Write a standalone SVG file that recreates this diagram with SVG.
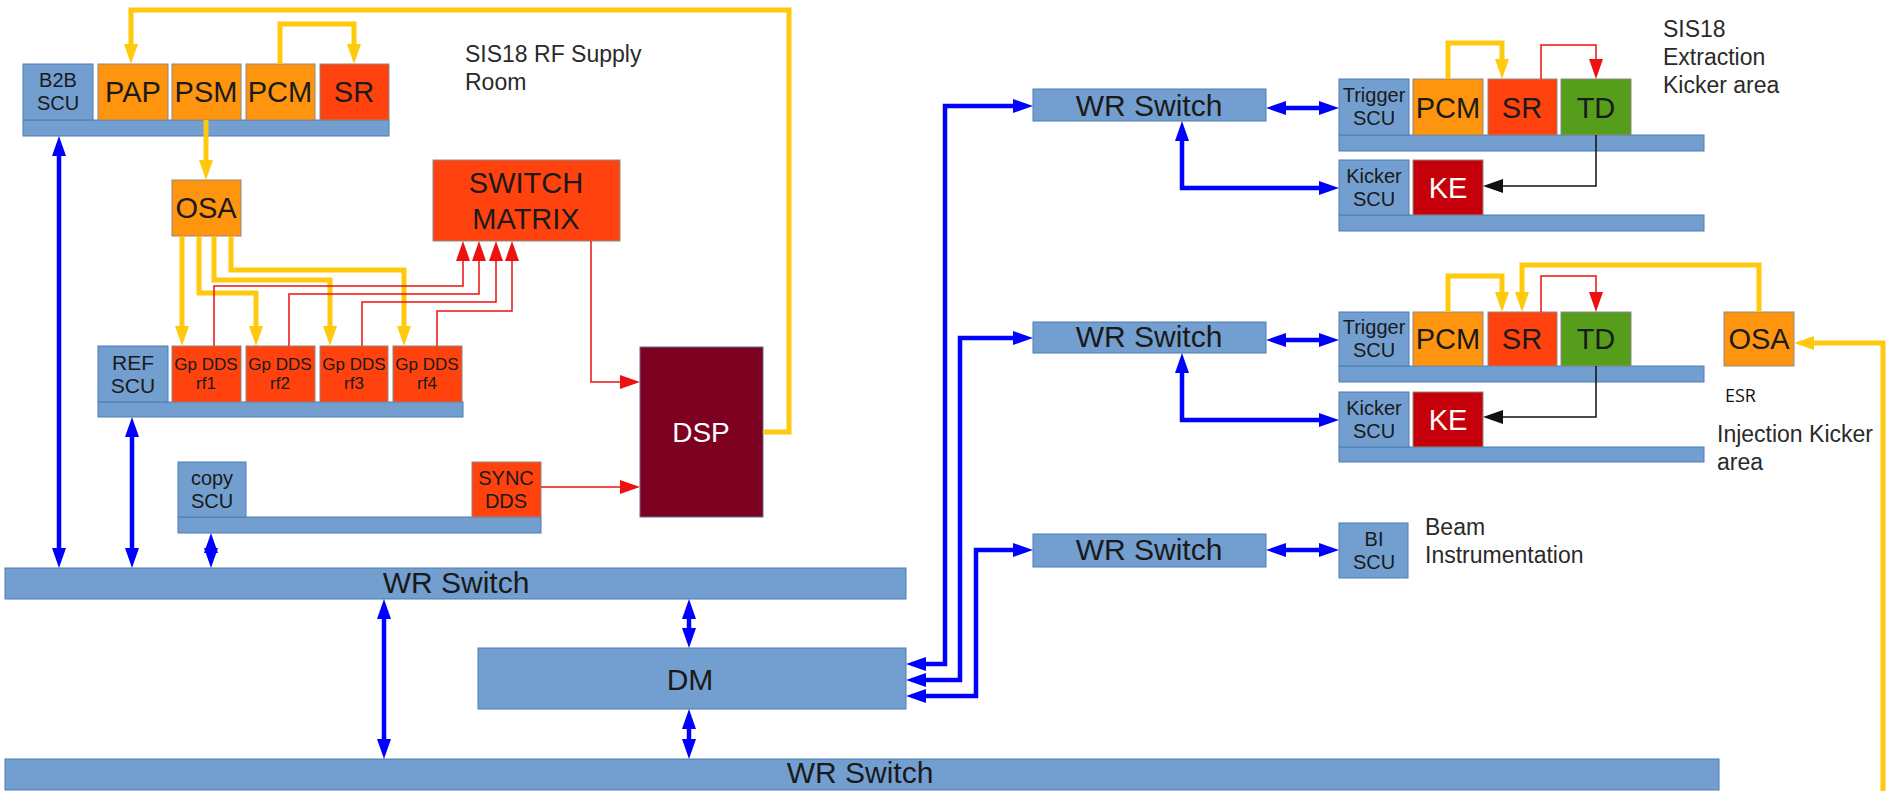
<svg xmlns="http://www.w3.org/2000/svg" width="1887" height="791" viewBox="0 0 1887 791">
<style>
text{font-family:"Liberation Sans",Arial,sans-serif;fill:#1a1a1a}
.c{text-anchor:middle}
.lbl{font-size:23px;fill:#2a2a2a}
.f20{font-size:20px}
.f17{font-size:17px}
.f29{font-size:29px}
.f30{font-size:30px}
.w{fill:#ffffff}
.blue{fill:#729fcf;stroke:#4f7cb3;stroke-width:1}
.or{fill:#ff950e;stroke:#8a8a8a;stroke-width:1}
.rd{fill:#ff420e;stroke:#8a8a8a;stroke-width:1}
.gr{fill:#579d1c;stroke:#8a8a8a;stroke-width:1}
.ke{fill:#c5000b;stroke:#8a8a8a;stroke-width:1}
.dsp{fill:#7e0021;stroke:#5a6a9a;stroke-width:1}
.ly{fill:none;stroke:#ffc90e;stroke-width:5}
.lb{fill:none;stroke:#0000ff;stroke-width:4.5}
.lr{fill:none;stroke:#ee1111;stroke-width:1.5}
.lk{fill:none;stroke:#111111;stroke-width:1.5}
</style>
<defs>
<marker id="mY" markerUnits="userSpaceOnUse" markerWidth="20" markerHeight="14" refX="10" refY="7" orient="auto-start-reverse"><path d="M0,0 L20,7 L0,14 z" fill="#ffc90e"/></marker>
<marker id="mB" markerUnits="userSpaceOnUse" markerWidth="20" markerHeight="14" refX="10" refY="7" orient="auto-start-reverse"><path d="M0,0 L20,7 L0,14 z" fill="#0000ff"/></marker>
<marker id="mR" markerUnits="userSpaceOnUse" markerWidth="20" markerHeight="14" refX="10" refY="7" orient="auto-start-reverse"><path d="M0,0 L20,7 L0,14 z" fill="#ee1111"/></marker>
<marker id="mK" markerUnits="userSpaceOnUse" markerWidth="20" markerHeight="14" refX="10" refY="7" orient="auto-start-reverse"><path d="M0,0 L20,7 L0,14 z" fill="#111111"/></marker>
</defs>
<rect width="1887" height="791" fill="#ffffff"/>

<g id="labels">
<text class="lbl" x="465" y="62">SIS18 RF Supply</text>
<text class="lbl" x="465" y="90">Room</text>
<text class="lbl" x="1663" y="37">SIS18</text>
<text class="lbl" x="1663" y="65">Extraction</text>
<text class="lbl" x="1663" y="93">Kicker area</text>
<text x="1725" y="402" style="font-family:'Open Sans','Liberation Sans',sans-serif;font-size:18px;fill:#111">ESR</text>
<text class="lbl" x="1717" y="442">Injection Kicker</text>
<text class="lbl" x="1717" y="470">area</text>
<text class="lbl" x="1425" y="535">Beam</text>
<text class="lbl" x="1425" y="563">Instrumentation</text>
</g>

<g id="rf-supply-rack">
<rect class="blue" x="23" y="120" width="366" height="16"/>
<rect class="blue" x="23" y="64" width="70" height="56"/>
<text class="c f20" x="58" y="87">B2B</text>
<text class="c f20" x="58" y="110">SCU</text>
<rect class="or" x="98" y="64" width="70" height="56"/>
<text class="c f29" x="133" y="102">PAP</text>
<rect class="or" x="172" y="64" width="69" height="56"/>
<text class="c f29" x="206" y="102">PSM</text>
<rect class="or" x="246" y="64" width="69" height="56"/>
<text class="c f29" x="280" y="102">PCM</text>
<rect class="rd" x="320" y="64" width="69" height="56"/>
<text class="c f29" x="354" y="102">SR</text>
</g>

<g id="osa-rf">
<rect class="or" x="172" y="180" width="69" height="56"/>
<text class="c f29" x="206" y="218">OSA</text>
</g>

<g id="switch-matrix">
<rect class="rd" x="433" y="160" width="187" height="81"/>
<text class="c f29" x="526" y="193">SWITCH</text>
<text class="c f29" x="526" y="229">MATRIX</text>
</g>

<g id="ref-rack">
<rect class="blue" x="98" y="402" width="365" height="15"/>
<rect class="blue" x="98" y="346" width="70" height="56"/>
<text class="c" x="133" y="370" style="font-size:21px">REF</text>
<text class="c" x="133" y="393" style="font-size:21px">SCU</text>
<rect class="rd" x="172" y="346" width="69" height="56"/>
<text class="c f17" x="206" y="370">Gp DDS</text>
<text class="c f17" x="206" y="389">rf1</text>
<rect class="rd" x="246" y="346" width="69" height="56"/>
<text class="c f17" x="280" y="370">Gp DDS</text>
<text class="c f17" x="280" y="389">rf2</text>
<rect class="rd" x="320" y="346" width="68" height="56"/>
<text class="c f17" x="354" y="370">Gp DDS</text>
<text class="c f17" x="354" y="389">rf3</text>
<rect class="rd" x="393" y="346" width="69" height="56"/>
<text class="c f17" x="427" y="370">Gp DDS</text>
<text class="c f17" x="427" y="389">rf4</text>
</g>

<g id="copy-rack">
<rect class="blue" x="178" y="517" width="363" height="16"/>
<rect class="blue" x="178" y="462" width="68" height="55"/>
<text class="c f20" x="212" y="485">copy</text>
<text class="c f20" x="212" y="508">SCU</text>
<rect class="rd" x="472" y="462" width="69" height="55"/>
<text class="c f20" x="506" y="485">SYNC</text>
<text class="c f20" x="506" y="508">DDS</text>
</g>

<g id="dsp">
<rect class="dsp" x="640" y="347" width="123" height="170"/>
<text class="c w" x="701" y="442" style="font-size:28px">DSP</text>
</g>

<g id="wr-upper">
<rect class="blue" x="5" y="568" width="901" height="31"/>
<text class="c f30" x="456" y="593">WR Switch</text>
</g>

<g id="dm">
<rect class="blue" x="478" y="648" width="428" height="61"/>
<text class="c f30" x="690" y="690">DM</text>
</g>

<g id="wr-lower">
<rect class="blue" x="5" y="759" width="1714" height="31"/>
<text class="c f30" x="860" y="783">WR Switch</text>
</g>

<g id="wr1">
<rect class="blue" x="1033" y="89" width="233" height="32"/>
<text class="c f30" x="1149" y="116">WR Switch</text>
</g>
<g id="wr2">
<rect class="blue" x="1033" y="322" width="233" height="31"/>
<text class="c f30" x="1149" y="347">WR Switch</text>
</g>
<g id="wr3">
<rect class="blue" x="1033" y="534" width="233" height="33"/>
<text class="c f30" x="1149" y="560">WR Switch</text>
</g>

<g id="extraction-trigger-rack">
<rect class="blue" x="1339" y="135" width="365" height="16"/>
<rect class="blue" x="1339" y="79" width="70" height="56"/>
<text class="c f20" x="1374" y="102">Trigger</text>
<text class="c f20" x="1374" y="125">SCU</text>
<rect class="or" x="1413" y="79" width="70" height="56"/>
<text class="c f29" x="1448" y="118">PCM</text>
<rect class="rd" x="1488" y="79" width="69" height="56"/>
<text class="c f29" x="1522" y="118">SR</text>
<rect class="gr" x="1561" y="79" width="70" height="56"/>
<text class="c f29" x="1596" y="118">TD</text>
</g>
<g id="extraction-kicker-rack">
<rect class="blue" x="1339" y="215" width="365" height="16"/>
<rect class="blue" x="1339" y="160" width="70" height="55"/>
<text class="c f20" x="1374" y="183">Kicker</text>
<text class="c f20" x="1374" y="206">SCU</text>
<rect class="ke" x="1413" y="160" width="70" height="55"/>
<text class="c f29 w" x="1448" y="198">KE</text>
</g>

<g id="injection-trigger-rack">
<rect class="blue" x="1339" y="366" width="365" height="16"/>
<rect class="blue" x="1339" y="312" width="70" height="54"/>
<text class="c f20" x="1374" y="334">Trigger</text>
<text class="c f20" x="1374" y="357">SCU</text>
<rect class="or" x="1413" y="312" width="70" height="54"/>
<text class="c f29" x="1448" y="349">PCM</text>
<rect class="rd" x="1488" y="312" width="69" height="54"/>
<text class="c f29" x="1522" y="349">SR</text>
<rect class="gr" x="1561" y="312" width="70" height="54"/>
<text class="c f29" x="1596" y="349">TD</text>
</g>
<g id="injection-kicker-rack">
<rect class="blue" x="1339" y="447" width="365" height="15"/>
<rect class="blue" x="1339" y="392" width="70" height="55"/>
<text class="c f20" x="1374" y="415">Kicker</text>
<text class="c f20" x="1374" y="438">SCU</text>
<rect class="ke" x="1413" y="392" width="70" height="55"/>
<text class="c f29 w" x="1448" y="430">KE</text>
</g>

<g id="osa-esr">
<rect class="or" x="1724" y="312" width="70" height="54"/>
<text class="c f29" x="1759" y="349">OSA</text>
</g>

<g id="bi-scu">
<rect class="blue" x="1339" y="523" width="69" height="55"/>
<text class="c f20" x="1374" y="546">BI</text>
<text class="c f20" x="1374" y="569">SCU</text>
</g>

<g id="connectors">
<path class="ly" d="M763,432 H789 V10 H131 V54" marker-end="url(#mY)"/>
<path class="ly" d="M280,64 V24 H354 V54" marker-end="url(#mY)"/>
<path class="ly" d="M206,120 V170" marker-end="url(#mY)"/>
<path class="ly" d="M182,236 V336" marker-end="url(#mY)"/>
<path class="ly" d="M199,236 V293 H256 V336" marker-end="url(#mY)"/>
<path class="ly" d="M214,236 V280 H330 V336" marker-end="url(#mY)"/>
<path class="ly" d="M231,236 V270 H404 V336" marker-end="url(#mY)"/>
<path class="ly" d="M1448,79 V43 H1502 V69" marker-end="url(#mY)"/>
<path class="ly" d="M1448,312 V276 H1502 V302" marker-end="url(#mY)"/>
<path class="ly" d="M1759,312 V265 H1522 V302" marker-end="url(#mY)"/>
<path class="ly" d="M1883,791 V343 H1804" marker-end="url(#mY)"/>
<path class="lr" d="M214,346 V286 H463 V251" marker-end="url(#mR)"/>
<path class="lr" d="M289,346 V294 H479 V251" marker-end="url(#mR)"/>
<path class="lr" d="M362,346 V302 H496 V251" marker-end="url(#mR)"/>
<path class="lr" d="M437,346 V311 H512 V251" marker-end="url(#mR)"/>
<path class="lr" d="M591,241 V382 H630" marker-end="url(#mR)"/>
<path class="lr" d="M541,487 H630" marker-end="url(#mR)"/>
<path class="lr" d="M1541,79 V45 H1596 V69" marker-end="url(#mR)"/>
<path class="lr" d="M1541,312 V276 H1596 V302" marker-end="url(#mR)"/>
<path class="lk" d="M1596,135 V186 H1493" marker-end="url(#mK)"/>
<path class="lk" d="M1596,366 V417 H1493" marker-end="url(#mK)"/>
<path class="lb" d="M59,146 V558" marker-start="url(#mB)" marker-end="url(#mB)"/>
<path class="lb" d="M132,427 V558" marker-start="url(#mB)" marker-end="url(#mB)"/>
<path class="lb" d="M211,543 V558" marker-start="url(#mB)" marker-end="url(#mB)"/>
<path class="lb" d="M384,609 V749" marker-start="url(#mB)" marker-end="url(#mB)"/>
<path class="lb" d="M689,609 V638" marker-start="url(#mB)" marker-end="url(#mB)"/>
<path class="lb" d="M689,719 V749" marker-start="url(#mB)" marker-end="url(#mB)"/>
<path class="lb" d="M916,664 H945 V106 H1023" marker-start="url(#mB)" marker-end="url(#mB)"/>
<path class="lb" d="M916,680 H960 V338 H1023" marker-start="url(#mB)" marker-end="url(#mB)"/>
<path class="lb" d="M916,696 H976 V550 H1023" marker-start="url(#mB)" marker-end="url(#mB)"/>
<path class="lb" d="M1276,108 H1329" marker-start="url(#mB)" marker-end="url(#mB)"/>
<path class="lb" d="M1182,131 V188 H1329" marker-start="url(#mB)" marker-end="url(#mB)"/>
<path class="lb" d="M1276,340 H1329" marker-start="url(#mB)" marker-end="url(#mB)"/>
<path class="lb" d="M1182,363 V420 H1329" marker-start="url(#mB)" marker-end="url(#mB)"/>
<path class="lb" d="M1276,550 H1329" marker-start="url(#mB)" marker-end="url(#mB)"/>
</g>
</svg>
